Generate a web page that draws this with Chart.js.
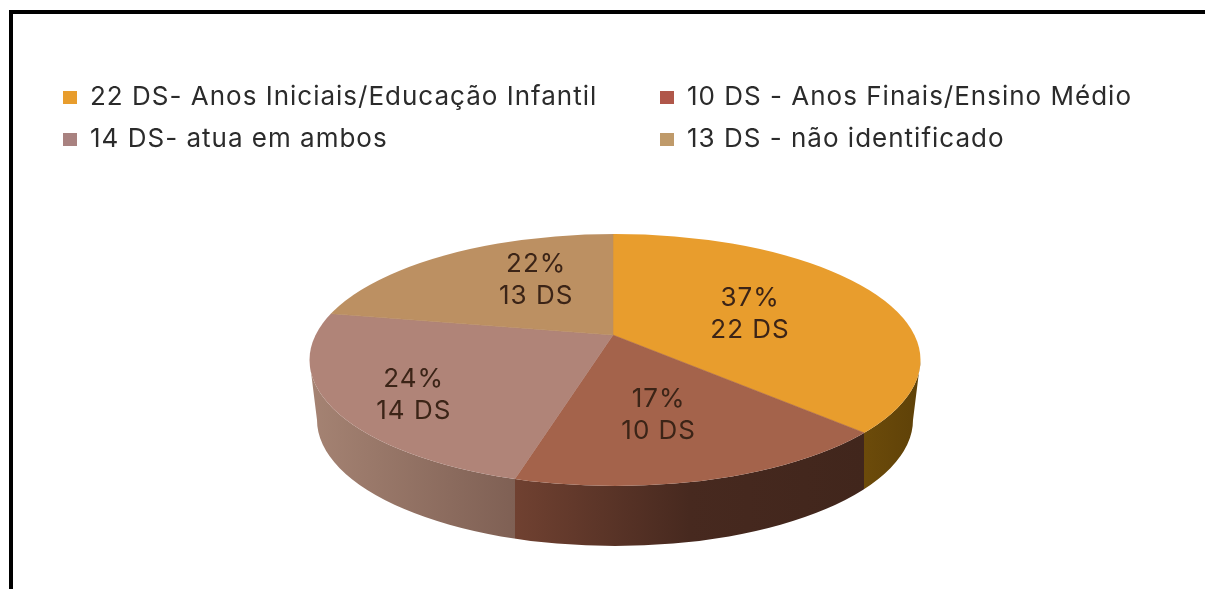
<!DOCTYPE html>
<html>
<head>
<meta charset="utf-8">
<style>
  html, body { margin: 0; background: #fff; overflow: hidden; }
  #frame { position: absolute; left: 9px; top: 10px; right: 0; bottom: 0;
           border-left: 4px solid #000; border-top: 4px solid #000; }
  #pie { position: absolute; left: 0; top: 0; }
</style>
<script src="https://cdn.jsdelivr.net/npm/chart.js@4"></script>
</head>
<body>
<div id="frame"></div>
<canvas id="pie" width="1205" height="589"></canvas>
<script>
const legendLabels = [
    "22 DS- Anos Iniciais/Educação Infantil",
    "10 DS - Anos Finais/Ensino Médio",
    "14 DS- atua em ambos",
    "13 DS - não identificado",
];
const counts = [22, 10, 14, 13];
const percentLabels = ["37%", "17%", "24%", "22%"];
const countLabels = ["22 DS", "10 DS", "14 DS", "13 DS"];
const topColors = ["#E89D2D", "#A4634B", "#B08478", "#BC9062"];
const legendColors = ["#E89D2D", "#B0574A", "#A98280", "#BF9A6A"];
const wallColors = [
    ["#6C4B0A", "#5E4108"],
    ["#704131", "#47291F", "#41261C"],
    ["#A58373", "#7F6054"],
    null,
];

const FONT = "Inter, sans-serif";
const SQUASH = 0.4;       // perspective flattening of the slice directions
const STRETCH_X = 1.5;
const TOP = { x: 615, y: 360, rx: 305.5, ry: 126 };
const BOTTOM = { x: 615, y: 420, rx: 298, ry: 126 };

// where a slice edge leaves the top ellipse
function rimPoint(arc, angle) {
    const dx = Math.cos(angle), dy = SQUASH * Math.sin(angle);
    const ox = (arc.x - TOP.x) / TOP.rx, oy = (arc.y - TOP.y) / TOP.ry;
    const ux = dx / TOP.rx, uy = dy / TOP.ry;
    const a = ux * ux + uy * uy;
    const b = 2 * (ox * ux + oy * uy);
    const c = ox * ox + oy * oy - 1;
    const t = (-b + Math.sqrt(b * b - 4 * a * c)) / (2 * a);
    return { x: arc.x + t * dx, y: arc.y + t * dy };
}

const pie3d = {
    id: "pie3d",
    beforeDatasetsDraw(chart) {
        const ctx = chart.ctx;
        const arcs = chart.getDatasetMeta(0).data;

        ctx.save();
        ctx.beginPath();
        ctx.ellipse(TOP.x, TOP.y, TOP.rx, TOP.ry, 0, 0, Math.PI);
        ctx.ellipse(BOTTOM.x, BOTTOM.y, BOTTOM.rx, BOTTOM.ry, 0, Math.PI, 0, true);
        ctx.closePath();
        ctx.clip();
        arcs.forEach((arc, i) => {
            if (!wallColors[i]) return;
            const start = rimPoint(arc, arc.startAngle);
            const end = rimPoint(arc, arc.endAngle);
            const right = Math.round(start.y > TOP.y ? start.x : TOP.x + TOP.rx);
            const left = Math.round(end.y > TOP.y ? end.x : TOP.x - TOP.rx);
            const grad = ctx.createLinearGradient(left, 0, right, 0);
            wallColors[i].forEach((c, k) => grad.addColorStop(k / (wallColors[i].length - 1), c));
            ctx.fillStyle = grad;
            ctx.fillRect(left, TOP.y - TOP.ry, right - left, 400);
        });
        ctx.restore();

        const centre = arcs[0];
        ctx.save();
        ctx.beginPath();
        ctx.ellipse(TOP.x, TOP.y, TOP.rx, TOP.ry, 0, 0, Math.PI * 2);
        ctx.clip();
        ctx.translate(centre.x, centre.y);
        ctx.scale(STRETCH_X, STRETCH_X * SQUASH);
        ctx.translate(-centre.x, -centre.y);
    },
    afterDatasetsDraw(chart) {
        const ctx = chart.ctx;
        ctx.restore();

        // value labels, placed along each slice's middle direction
        const reach = [152, 90, 248, 100];
        const nudge = [[-3, 3], [22, 45], [11, 8], [-13, -24]];
        ctx.textAlign = "center";
        ctx.textBaseline = "middle";
        ctx.fillStyle = "#3B2417";
        ctx.font = "26px " + FONT;
        ctx.letterSpacing = "1px";
        chart.getDatasetMeta(0).data.forEach((arc, i) => {
            const mid = (arc.startAngle + arc.endAngle) / 2;
            const x = arc.x + reach[i] * Math.cos(mid) + nudge[i][0];
            const y = arc.y + reach[i] * SQUASH * Math.sin(mid) + nudge[i][1];
            ctx.fillText(percentLabels[i], x, y - 16);
            ctx.fillText(countLabels[i], x, y + 16);
        });

        // two column legend
        const columns = [63, 660];
        const rows = [97, 139];
        ctx.textAlign = "left";
        ctx.font = "26px " + FONT;
        chart.data.labels.forEach((label, i) => {
            const x = columns[i % 2], y = rows[i >> 1];
            ctx.fillStyle = legendColors[i];
            ctx.fillRect(x, y - 6, 14, 13);
            ctx.fillStyle = "#2B2B2B";
            ctx.fillText(label, x + 27, y);
        });
        ctx.letterSpacing = "0px";
    },
};

new Chart(document.getElementById("pie"), {
    type: "pie",
    data: {
        labels: legendLabels,
        datasets: [{
            data: counts,
            backgroundColor: topColors,
            borderColor: topColors,
            borderWidth: 0.5,
            clip: false,
        }],
    },
    options: {
        responsive: false,
        animation: false,
        events: [],
        layout: { padding: { left: 21, top: 81 } },
        plugins: { legend: { display: false }, tooltip: { enabled: false } },
    },
    plugins: [pie3d],
});
</script>
</body>
</html>
